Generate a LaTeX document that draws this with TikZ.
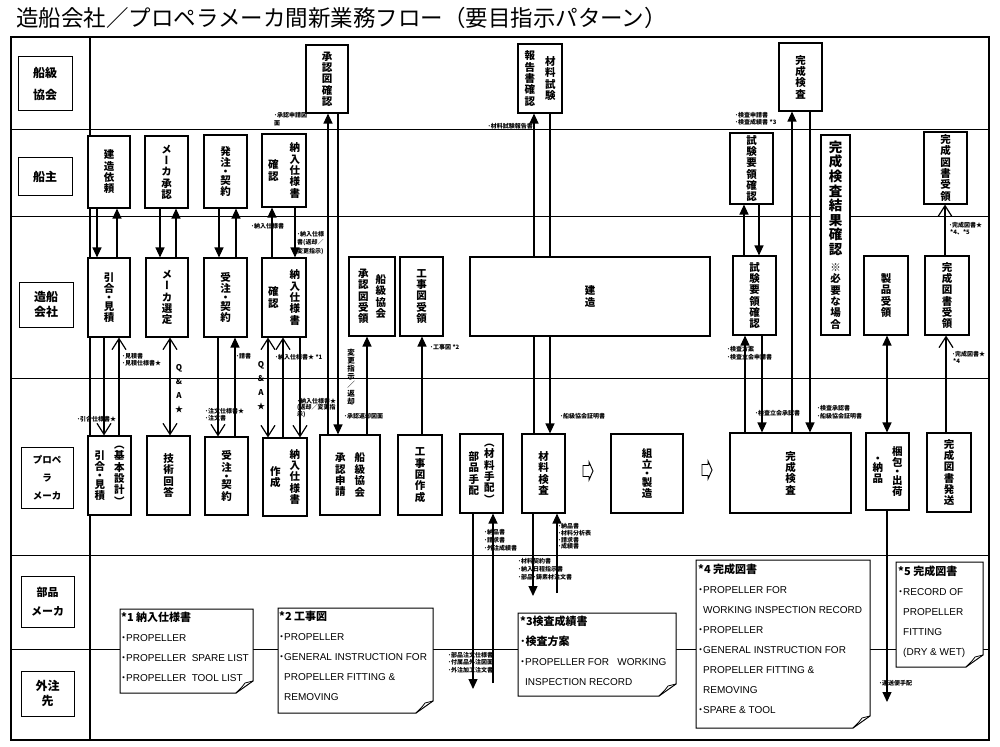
\documentclass[tikz,border=0pt]{standalone}
\usepackage{fontspec}
\setmainfont{Noto Sans CJK JP}
\newfontfamily\jp{Noto Sans CJK JP}
\newfontfamily\jpv{Noto Sans CJK JP}[RawFeature=+vert]
\newfontfamily\en{Liberation Sans}
\usetikzlibrary{arrows.meta}
\pgfdeclarelayer{bg}
\pgfsetlayers{bg,main}
\makeatletter
\def\vt@dot{・}
\newcommand\vt[1]{\vbox{\jpv\baselineskip=1.08em\lineskiplimit=-100pt\lineskip=0pt\@tfor\vt@c:=#1\do{\ifx\vt@c\vt@dot\kern-0.25em\hbox to 1em{\hss\vt@c\hss}\kern-0.25em\else\hbox to 1em{\hss\vt@c\hss}\fi}}}
\newcommand\vc[1]{$\vcenter{\vt{#1}}$}
\makeatother
\newcommand\bul{{\jp\bfseries ･}}
\newcommand\notebox[4]{%
  \draw[note] (#1,#2) -- (#3,#2) -- (#3,#4-12) -- (#3-17,#4) -- (#1,#4) -- cycle;
  \draw[line width=0.8pt] (#3,#4-12) -- (#3-8,#4-10) .. controls (#3-11,#4-6) .. (#3-17,#4);}
\begin{document}
\begin{tikzpicture}[x=1pt,y=-1pt,
  pbox/.style={draw, line width=1.1pt, fill=white, inner sep=0pt, font=\bfseries\fontsize{10.5}{12}\selectfont},
  lbox/.style={draw, line width=1pt, fill=white, inner sep=0pt, align=center},
  lab/.style={inner sep=0pt, align=left, font=\bfseries\fontsize{6}{8}\selectfont},
  fa/.style={line width=1.2pt, -{Triangle[length=10pt,width=9pt]}},
  fab/.style={line width=1.2pt, {Triangle[length=10pt,width=9pt]}-{Triangle[length=10pt,width=9pt]}},
  va/.style={line width=1.2pt, -{Straight Barb[length=11pt,width=14pt]}},
  vab/.style={line width=1.2pt, {Straight Barb[length=11pt,width=14pt]}-{Straight Barb[length=11pt,width=14pt]}},
  note/.style={draw, line width=1pt, fill=white},
  ntext/.style={inner sep=0pt, anchor=north west, align=left, font=\en\fontsize{10}{20}\selectfont},
  lane/.style={line width=0.9pt}
]
\useasboundingbox (0,0) rectangle (1000,746);

% title
\node[anchor=west, inner sep=0pt, font=\fontsize{22.5}{24}\selectfont] (title) at (16,18) {造船会社／プロペラメーカ間新業務フロー（要目指示パターン）};

% lane labels
\node[lbox, minimum width=54pt, minimum height=54pt, font=\bfseries\fontsize{12}{22}\selectfont] (ln1) at (45,84) {船級\\協会};
\node[lbox, minimum width=54pt, minimum height=37pt, font=\bfseries\fontsize{12}{14}\selectfont] (ln2) at (45,176.5) {船主};
\node[lbox, minimum width=54pt, minimum height=45pt, font=\bfseries\fontsize{12}{15}\selectfont] (ln3) at (46,304.5) {造船\\会社};
\node[lbox, minimum width=52pt, minimum height=61pt, font=\bfseries\fontsize{9.5}{18}\selectfont] (ln4) at (47,477.5) {プロペ\\ラ\\メーカ};
\node[lbox, minimum width=53pt, minimum height=51pt, font=\bfseries\fontsize{11}{19}\selectfont] (ln5) at (47.5,601.5) {部品\\メーカ};
\node[lbox, minimum width=53pt, minimum height=45pt, font=\bfseries\fontsize{12}{15}\selectfont] (ln6) at (47.5,693.5) {外注\\先};

% lane 1
\node[pbox, minimum width=42pt, minimum height=68pt] (cfa) at (327,79) {\vc{承認図確認}};
\node[pbox, minimum width=44pt, minimum height=69pt] (mat) at (540,78.5) {\vc{報告書確認}\hspace{10pt}\vc{材料試験}};
\node[pbox, minimum width=43pt, minimum height=68pt] (kan) at (800.5,77) {\vc{完成検査}};

% lane 2
\node[pbox, minimum width=42pt, minimum height=72pt] (b21) at (109,172) {\vc{建造依頼}};
\node[pbox, minimum width=43pt, minimum height=72pt] (b22) at (166.5,172) {\vc{メーカ承認}};
\node[pbox, minimum width=43pt, minimum height=73pt] (b23) at (225.5,171.5) {\vc{発注・契約}};
\node[pbox, minimum width=44pt, minimum height=73pt] (b24) at (284,170.5) {\vc{確認}\hspace{11pt}\vc{納入仕様書}};
\node[pbox, minimum width=43pt, minimum height=71pt] (b25) at (751.5,168.5) {\vc{試験要領確認}};
\node[pbox, minimum width=29pt, minimum height=200pt] (b26) at (835.5,235) {\vbox{\hbox to 14pt{\hss\fontsize{13.5}{15}\selectfont\vt{完成検査結果確認}\hss}\kern7pt\hbox to 14pt{\hss\fontsize{10.5}{12}\selectfont\vt{※必要な場合}\hss}}};
\node[pbox, minimum width=43pt, minimum height=72pt] (b27) at (945.5,168) {\vc{完成図書受領}};

% lane 3
\node[pbox, minimum width=42pt, minimum height=79pt] (b31) at (109,297.5) {\vc{引合・見積}};
\node[pbox, minimum width=42pt, minimum height=79pt] (b32) at (167,297.5) {\vc{メーカ選定}};
\node[pbox, minimum width=43pt, minimum height=79pt] (b33) at (225.5,297.5) {\vc{受注・契約}};
\node[pbox, minimum width=44pt, minimum height=79pt] (b34) at (284,297.5) {\vc{確認}\hspace{11pt}\vc{納入仕様書}};
\node[pbox, minimum width=46pt, minimum height=79pt] (b35) at (372,296.5) {\vc{承認図受領}\hspace{7pt}\vc{船級協会}};
\node[pbox, minimum width=43pt, minimum height=79pt] (b36) at (421.5,296.5) {\vc{工事図受領}};
\node[pbox, minimum width=240pt, minimum height=79pt] (b37) at (590,296.5) {\vc{建造}};
\node[pbox, minimum width=43pt, minimum height=79pt] (b38) at (754.5,295.5) {\vc{試験要領確認}};
\node[pbox, minimum width=44pt, minimum height=79pt] (b39) at (886,295.5) {\vc{製品受領}};
\node[pbox, minimum width=44pt, minimum height=79pt] (b3a) at (947,295.5) {\vc{完成図書受領}};

% lane 4
\node[pbox, minimum width=43pt, minimum height=79pt] (b41) at (109.5,475.5) {\vc{引合・見積}\hspace{9pt}\vc{︵基本設計︶}};
\node[pbox, minimum width=43pt, minimum height=79pt] (b42) at (168.5,475.5) {\vc{技術回答}};
\node[pbox, minimum width=43pt, minimum height=78pt] (b43) at (226.5,476) {\vc{受注・契約}};
\node[pbox, minimum width=44pt, minimum height=78pt] (b44) at (285,477) {\vc{作成}\hspace{9pt}\vc{納入仕様書}};
\node[pbox, minimum width=60pt, minimum height=80pt] (b45) at (350,475) {\vc{承認申請}\hspace{9pt}\vc{船級協会}};
\node[pbox, minimum width=44pt, minimum height=80pt] (b46) at (420,475) {\vc{工事図作成}};
\node[pbox, minimum width=43pt, minimum height=79pt] (b47) at (481.5,473.5) {\vc{部品手配}\hspace{5pt}\vc{︵材料手配︶}};
\node[pbox, minimum width=43pt, minimum height=79pt] (b48) at (543.5,473.5) {\vc{材料検査}};
\node[pbox, minimum width=72pt, minimum height=79pt] (b49) at (647,473.5) {\vc{組立・製造}};
\node[pbox, minimum width=121pt, minimum height=80pt] (b4a) at (790.5,473) {\vc{完成検査}};
\node[pbox, minimum width=43pt, minimum height=77pt] (b4b) at (887.5,471.5) {\vc{・納品}\hspace{9pt}\vc{梱包・出荷}};
\node[pbox, minimum width=44pt, minimum height=79pt] (b4c) at (949,472.5) {\vc{完成図書発送}};

% small arrows between steps
\draw[line width=0.9pt, fill=white] (583,465.5) -- (589,465.5) -- (589,462) -- (593,471) -- (589,480) -- (589,476.5) -- (583,476.5) -- cycle;
\draw[line width=0.9pt, fill=white] (702,464.5) -- (708,464.5) -- (708,461) -- (712,470) -- (708,479) -- (708,475.5) -- (702,475.5) -- cycle;

% free ends
\coordinate (e22) at (887,702);
\coordinate (e33) at (473,689);
\coordinate (s34) at (493,683);
\coordinate (e35) at (533,596);
\coordinate (s36) at (557,593);

\begin{pgfonlayer}{bg}
\draw[line width=1.5pt] (11,37) rectangle (989,740);
\draw[lane] (11,129) -- (989,129);
\draw[lane] (11,216) -- (989,216);
\draw[lane] (11,378) -- (989,378);
\draw[lane] (11,555) -- (989,555);
\draw[lane] (11,649) -- (989,649);
\draw[line width=1.3pt] (90,37) -- (90,740);
% lane 2 <-> 3
\draw[fa] (b21.south -| 97,0) -- (b31.north -| 97,0);
\draw[fa] (b31.north -| 117,0) -- (b21.south -| 117,0);
\draw[fa] (b22.south -| 160,0) -- (b32.north -| 160,0);
\draw[fa] (b32.north -| 176,0) -- (b22.south -| 176,0);
\draw[fa] (b23.south -| 219,0) -- (b33.north -| 219,0);
\draw[fa] (b33.north -| 236,0) -- (b23.south -| 236,0);
\draw[fa] (b34.north -| 272,0) -- (b24.south -| 272,0);
\draw[fa] (b24.south -| 295,0) -- (b34.north -| 295,0);
% approval drawings
\draw[fa] (b45.north -| 328,0) -- (cfa.south -| 328,0);
\draw[fa] (cfa.south -| 338,0) -- (b45.north -| 338,0);
\draw[fa] (b45.north -| 367,0) -- (b35.south -| 367,0);
\draw[fa] (b46.north -| 422,0) -- (b36.south -| 422,0);
% material test
\draw[fa] (b48.north -| 534,0) -- (mat.south -| 534,0);
\draw[fa] (mat.south -| 550,0) -- (b48.north -| 550,0);
% inspection
\draw[fa] (b38.north -| 744,0) -- (b25.south -| 744,0);
\draw[fa] (b25.south -| 759,0) -- (b38.north -| 759,0);
\draw[fa] (b4a.north -| 792,0) -- (kan.south -| 792,0);
\draw[fa] (kan.south -| 810,0) -- (b4a.north -| 810,0);
\draw[fa] (b4a.north -| 745,0) -- (b38.south -| 745,0);
\draw[fa] (b38.south -| 762,0) -- (b4a.north -| 762,0);
\draw[fab] (b39.south -| 887,0) -- (b4b.north -| 887,0);
\draw[fa] (b4b.south -| 887,0) -- (e22);
\draw[va] (b4c.north -| 946,0) -- (b3a.south -| 946,0);
\draw[va] (b3a.north -| 945,0) -- (b27.south -| 945,0);
% lane 3 <-> 4 left
\draw[va] (b31.south -| 104,0) -- (b41.north -| 104,0);
\draw[va] (b41.north -| 119,0) -- (b31.south -| 119,0);
\draw[vab] (b32.south -| 170,0) -- (b42.north -| 170,0);
\draw[va] (b33.south -| 218,0) -- (b43.north -| 218,0);
\draw[fa] (b43.north -| 235,0) -- (b33.south -| 235,0);
\draw[vab] (b34.south -| 268,0) -- (b44.north -| 268,0);
\draw[va] (b44.north -| 283,0) -- (b34.south -| 283,0);
\draw[va] (b34.south -| 300,0) -- (b44.north -| 300,0);
% parts
\draw[fa] (b47.south -| 473,0) -- (e33);
\draw[fa] (s34) -- (b47.south -| 493,0);
\draw[fa] (b48.south -| 533,0) -- (e35);
\draw[fa] (s36) -- (b48.south -| 557,0);
\end{pgfonlayer}

% labels
\node[lab, anchor=west] (l7) at (251,226) {･納入仕様書};
\node[lab, anchor=north west, font=\bfseries\fontsize{6}{8.5}\selectfont] (l8) at (297,231) {･納入仕様\\書(返却／\\変更指示)};
\node[lab, anchor=north west] (l9) at (274,112) {･承認申請図\\面};
\node[inner sep=0pt, font=\bfseries\fontsize{7.5}{9}\selectfont] (l10) at (351,377) {\vc{変更指示／返却}};
\node[lab, anchor=west] (l11) at (344,416) {･承認返却図面};
\node[lab, anchor=west] (l12) at (430,347) {･工事図 *2};
\node[lab, anchor=east] (l13) at (533,126) {･材料試験報告書};
\node[lab, anchor=west] (l14) at (560,416) {･船級協会証明書};
\node[lab, anchor=north west, font=\bfseries\fontsize{6}{7}\selectfont] (l17) at (735,112.5) {･検査申請書\\･検査成績書 *3};
\node[lab, anchor=north west] (l18) at (817,405) {･検査承認書\\･船級協会証明書};
\node[lab, anchor=north west] (l19) at (727,346) {･検査方案\\･検査立会申請書};
\node[lab, anchor=west] (l20) at (755,413) {･検査立会承認書};
\node[lab, anchor=west] (l22) at (879,683) {･運送便手配};
\node[lab, anchor=north west, font=\bfseries\fontsize{6}{7.5}\selectfont] (l23) at (952,351) {･完成図書★\\\,*4};
\node[lab, anchor=north west, font=\bfseries\fontsize{6}{7.5}\selectfont] (l24) at (949,222) {･完成図書★\\\,*4、*5};
\node[lab, anchor=west] (l25) at (77,419) {･引合仕様書★};
\node[lab, anchor=north west, font=\bfseries\fontsize{6}{7}\selectfont] (l26) at (122,353) {･見積書\\･見積仕様書★};
\node[lab, align=center, font=\bfseries\fontsize{8}{14}\selectfont] (l27) at (179,389) {Q\\\&\\A\\★};
\node[lab, anchor=north west, font=\bfseries\fontsize{6}{7}\selectfont] (l28) at (205,408) {･注文仕様書★\\･注文書};
\node[lab, anchor=west] (l29) at (236,356) {･請書};
\node[lab, align=center, font=\bfseries\fontsize{8}{14}\selectfont] (l30) at (261,386) {Q\\\&\\A\\★};
\node[lab, anchor=west] (l31) at (275,357) {･納入仕様書★ *1};
\node[lab, anchor=north west, font=\bfseries\fontsize{6}{6.5}\selectfont] (l32) at (297,398) {･納入仕様書★\\(返却／変更指\\示)};
\node[lab, anchor=north west] (l34a) at (484,529) {･納品書\\･請求書\\･外注成績書};
\node[lab, anchor=north west, font=\bfseries\fontsize{6}{7.5}\selectfont] (l34b) at (448,652) {･部品注文仕様書\\･付属品外注図面\\･外注加工注文書};
\node[lab, anchor=north west] (l35) at (518,558) {･材料契約書\\･納入日程指示書\\･部品･鋳素材注文書};
\node[lab, anchor=north west, font=\bfseries\fontsize{6}{6.7}\selectfont] (l36) at (558,523.5) {･納品書\\･材料分析表\\･請求書\\･成績書};

% notes
\notebox{120}{609}{253}{693}
\node[ntext] (n1) at (121,612) {{\jp\bfseries\fontsize{11}{20}\selectfont *1 納入仕様書}\\\bul PROPELLER\\\bul PROPELLER\ \ SPARE LIST\\\bul PROPELLER\ \ TOOL LIST};
\notebox{278}{608}{433}{713}
\node[ntext] (n2) at (279,611) {{\jp\bfseries\fontsize{11}{20}\selectfont *2 工事図}\\\bul PROPELLER\\\bul GENERAL INSTRUCTION FOR\\\hspace*{5pt}PROPELLER FITTING \&\\\hspace*{5pt}REMOVING};
\notebox{518}{613}{676}{696}
\node[ntext] (n3) at (520,616) {{\jp\bfseries\fontsize{11}{20}\selectfont *3検査成績書}\\{\jp\bfseries\fontsize{11}{20}\selectfont ･検査方案}\\\bul PROPELLER FOR\ \ \ WORKING\\\hspace*{5pt}INSPECTION RECORD};
\notebox{696}{560}{870}{728}
\node[ntext] (n4) at (698,564) {{\jp\bfseries\fontsize{11}{20}\selectfont *4 完成図書}\\\bul PROPELLER FOR\\\hspace*{5pt}WORKING INSPECTION RECORD\\\bul PROPELLER\\\bul GENERAL INSTRUCTION FOR\\\hspace*{5pt}PROPELLER FITTING \&\\\hspace*{5pt}REMOVING\\\bul SPARE \& TOOL};
\notebox{896}{562}{983}{667}
\node[ntext] (n5) at (898,566) {{\jp\bfseries\fontsize{11}{20}\selectfont *5 完成図書}\\\bul RECORD OF\\\hspace*{5pt}PROPELLER\\\hspace*{5pt}FITTING\\\hspace*{5pt}(DRY \& WET)};
\end{tikzpicture}
\end{document}
